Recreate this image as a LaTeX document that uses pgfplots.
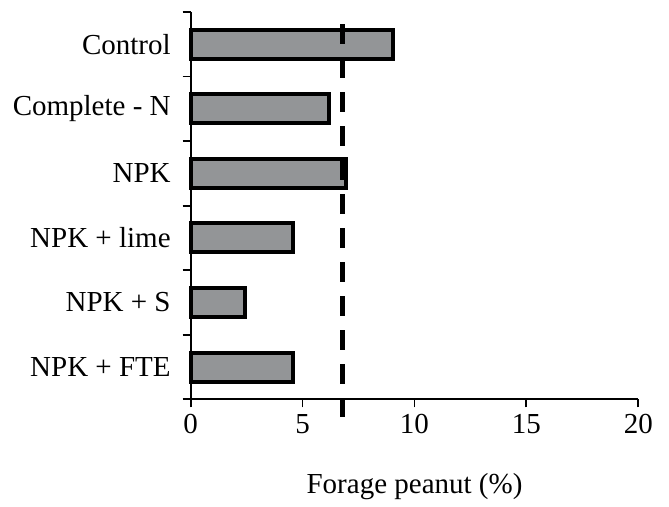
\documentclass[border=0pt]{standalone}
\usepackage{fontspec}
\setmainfont{Liberation Serif}
\usepackage{pgfplots}
\pgfplotsset{compat=1.18}
\definecolor{barfill}{RGB}{147,149,151}
\newcommand\lf{\fontsize{14.5}{16}\selectfont}
\begin{document}
\begin{tikzpicture}
\begin{axis}[name=ax, at={(0,0)}, anchor=south west,
 scale only axis, width=223.8pt, height=193.65pt,
 xmin=0, xmax=20, ymin=-0.5, ymax=5.5, y dir=reverse,
 bar width=14.5pt,
 axis x line*=bottom, axis y line*=left,
 axis line style={line width=0.9pt},
 xtick={0,5,10,15,20},
 ytick={0,...,5},
 yticklabels={Control, Complete - N, NPK, NPK + lime, NPK + S, NPK + FTE},
 minor ytick={-0.5,0.5,...,5.5},
 tick align=outside,
 major tick length=4pt, minor tick length=4pt,
 tick style={black, line width=0.9pt},
 major y tick style={draw=none},
 ticklabel style={font=\lf},
 yticklabel style={xshift=-2.5pt},
 /pgf/number format/assume math mode=true,
 xlabel={Forage peanut (\%)}, xlabel style={font=\lf, yshift=-13pt},
 clip=false,
]
\addplot[xbar, fill=barfill, draw=black, line width=2pt] coordinates {(9.05,0) (6.17,1) (6.92,2) (4.56,3) (2.44,4) (4.59,5)};
\addplot[black, line width=2.5pt, dash pattern=on 10pt off 7pt] coordinates {(6.79,-0.31) (6.79,5.77)};
\end{axis}
\path ([shift={(-95.35pt,-51.85pt)}]ax.south west) rectangle ([shift={(15.35pt,6pt)}]ax.north east);
\end{tikzpicture}
\end{document}
